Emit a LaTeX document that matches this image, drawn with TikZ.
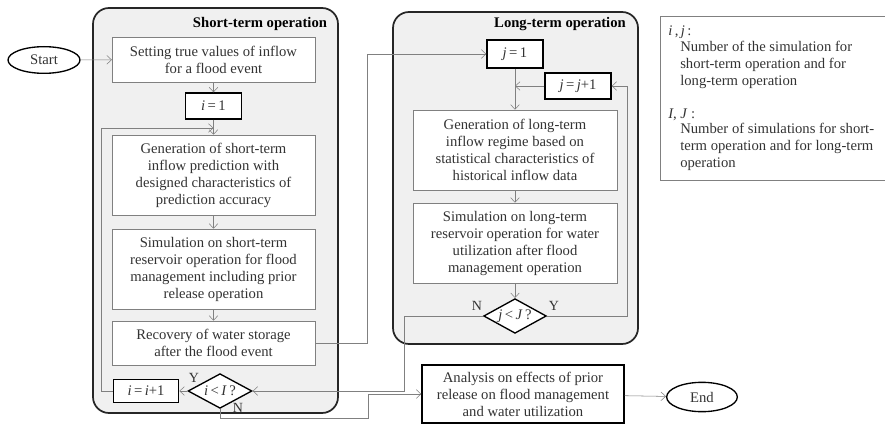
\documentclass[tikz,border=0pt]{standalone}
\usepackage{fontspec}
\setmainfont{Liberation Serif}
\usetikzlibrary{shapes.geometric,arrows.meta}

\begin{document}
\begin{tikzpicture}[x=0.75pt, y=-0.75pt,
    every node/.style={font=\fontsize{11}{12.75}\selectfont, text=black!80, align=center, inner sep=0pt},
    proc/.style={draw=black!50, fill=white, minimum width=152pt},
    counter/.style={draw=black, line width=1pt, fill=white},
    test/.style={diamond, draw=black, line width=1pt, fill=white, aspect=1.8},
    term/.style={ellipse, draw=black, line width=1pt, fill=white},
    stage/.style={draw=black!85, line width=1.3pt, fill=black!6, rounded corners=12pt},
    title/.style={font=\fontsize{11}{12.75}\selectfont\bfseries, text=black},
    flow/.style={draw=black!50, -{Straight Barb[length=3.5pt,width=6.5pt]}},
    yn/.style={font=\fontsize{10.5}{12}\selectfont}]
    \useasboundingbox (0,0) rectangle (885,424);

    % Stages
    \draw[stage] (93,8) rectangle (338,413);
    \draw[stage] (393,12) rectangle (638,344);
    \node[title] (sttitle) at (260,24) {Short-term operation};
    \node[title] (lttitle) at (560,24) {Long-term operation};

    % Define the nodes
    \node[term, minimum width=54pt, minimum height=20pt] (start) at (44,60) {Start};
    \node[proc, minimum height=34pt] (setting) at (213.5,59.5) {Setting true values of inflow\\for a flood event};
    \node[counter, minimum width=42pt, minimum height=19.5pt] (ione) at (213.5,106) {\textit{i}\,=\,1};
    \node[proc, minimum height=60pt] (sgen) at (213.5,175) {Generation of short-term\\inflow prediction with\\designed characteristics of\\prediction accuracy};
    \node[proc, minimum height=60pt] (ssim) at (213.5,269) {Simulation on short-term\\reservoir operation for flood\\management including prior\\release operation};
    \node[proc, minimum height=33pt] (recov) at (213.5,343) {Recovery of water storage\\after the flood event};
    \node[test, minimum width=48pt, minimum height=26pt] (itest) at (220,391) {\textit{i}\,<\,\textit{I}\,?};
    \node[counter, minimum width=49pt, minimum height=17pt] (inext) at (146,391) {\textit{i}\,=\,\textit{i}+1};

    \node[counter, minimum width=42pt, minimum height=21pt] (jone) at (515,54) {\textit{j}\,=\,1};
    \node[counter, minimum width=49.5pt, minimum height=19.5pt] (jnext) at (578,86) {\textit{j}\,=\,\textit{j}+1};
    \node[proc, minimum width=153pt, minimum height=60pt] (lgen) at (515,150) {Generation of long-term\\inflow regime based on\\statistical characteristics of\\historical inflow data};
    \node[proc, minimum width=153pt, minimum height=60pt] (lsim) at (515,243) {Simulation on long-term\\reservoir operation for water\\utilization after flood\\management operation};
    \node[test, minimum width=47pt, minimum height=26pt] (jtest) at (515,316) {\textit{j}\,<\,\textit{J}\,?};

    \node[counter, minimum width=151.5pt, minimum height=43.5pt] (analysis) at (523,394) {Analysis on effects of prior\\release on flood management\\and water utilization};
    \node[term, minimum width=53pt, minimum height=22pt] (finish) at (702,397) {End};

    \coordinate (loopin) at (213.5,128);
    \coordinate (nbend) at (368,418);

    % Connectors
    \draw[flow] (start) -- (setting);
    \draw[flow] (setting) -- (ione);
    \draw[flow] (ione) -- (sgen);
    \draw[flow] (sgen) -- (ssim);
    \draw[flow] (ssim) -- (recov);
    \draw[flow] (recov.east) -- ++(52,0) |- (jone.west);
    \draw[flow] (itest.west) -- (inext.east);
    \draw[flow] (inext.west) -- ++(-11,0) |- (loopin);
    \draw[flow] (itest.south) |- (nbend) |- (analysis.west);
    \draw[flow] (jone) -- (lgen);
    \draw[flow] (jnext.west) -- (jone.south |- jnext.west);
    \draw[flow] (lgen) -- (lsim);
    \draw[flow] (lsim) -- (jtest);
    \draw[flow] (jtest.east) -- ++(80,0) |- (jnext.east);
    \draw[flow] (jtest.west) -- ++(-79,0) |- (itest.east);
    \draw[flow] (analysis) -- (finish);

    \begin{scope}[every node/.style={yn, text=black!80}]
    \node (iy) at (194,378) {Y};
    \node (in) at (238,408) {N};
    \node (jn) at (477,306) {N};
    \node (jy) at (554,306) {Y};
    \end{scope}

    % Legend
    \draw[draw=black!50] (887,16) -- (660,16) -- (660,180) -- (887,180);
    \node[anchor=west] (ijkey) at (668,32) {\textit{i}\,,\,\textit{j}\,:};
    \node[anchor=north west, align=left] (ijtext) at (680,41) {Number of the simulation for\\short-term operation and for\\long-term operation};
    \node[anchor=west] (IJkey) at (668,115) {\textit{I}, \textit{J} :};
    \node[anchor=north west, align=left] (IJtext) at (680,123) {Number of simulations for short-\\term operation and for long-term\\operation};
\end{tikzpicture}
\end{document}
